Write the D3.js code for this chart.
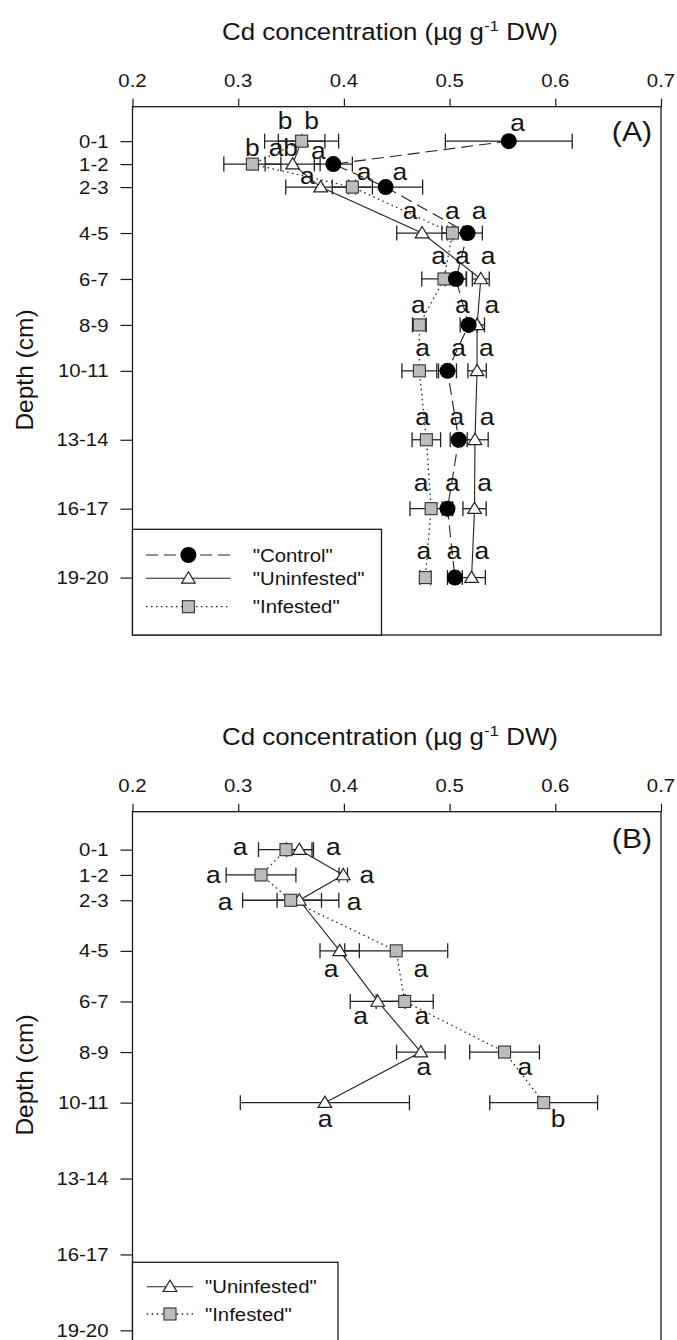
<!DOCTYPE html>
<html>
<head>
<meta charset="utf-8">
<script src="https://cdn.jsdelivr.net/npm/d3@7"></script>
<style>
  html, body { margin: 0; padding: 0; background: #fff; }
  svg { display: block; }
  text { font-family: "Liberation Sans", Arial, sans-serif; fill: #151515; }
</style>
</head>
<body>
<script>
// ---------------- DATA ----------------
const depthMids   = [0.5, 1.5, 2.5, 4.5, 6.5, 8.5, 10.5, 13.5, 16.5, 19.5];
const depthLabels = ["0-1", "1-2", "2-3", "4-5", "6-7", "8-9", "10-11", "13-14", "16-17", "19-20"];
const xTickValues = [0.2, 0.3, 0.4, 0.5, 0.6, 0.7];
const xTickLabels = ["0.2", "0.3", "0.4", "0.5", "0.6", "0.7"];

// Panel A (Cd, µg g-1 DW)
const controlA    = [0.556, 0.390, 0.4395, 0.517, 0.506, 0.518, 0.498, 0.5086, 0.498, 0.505];
const controlAErr = [0.060, 0.018, 0.035, 0.014, 0.010, 0.008, 0.0085, 0.008, 0.005, 0.007];
const uninfA      = [0.360, 0.3515, 0.378, 0.474, 0.5295, 0.526, 0.526, 0.524, 0.5236, 0.5208];
const uninfAErr   = [0.022, 0.026, 0.033, 0.024, 0.008, 0.007, 0.0087, 0.0125, 0.011, 0.013];
const infA        = [0.360, 0.3134, 0.408, 0.5027, 0.4947, 0.4714, 0.4714, 0.478, 0.4825, 0.477];
const infAErr     = [0.035, 0.027, 0.019, 0.010, 0.021, 0.0065, 0.0165, 0.0135, 0.020, 0.005];

// Panel B (only first 7 depth layers)
const uninfB      = [0.3578, 0.3994, 0.3578, 0.396, 0.432, 0.4728, 0.382];
const uninfBErr   = [0.012, 0.004, 0.021, 0.0186, 0.026, 0.023, 0.080];
const infB        = [0.3452, 0.3216, 0.3497, 0.4495, 0.4575, 0.552, 0.589];
const infBErr     = [0.026, 0.033, 0.0455, 0.0487, 0.027, 0.033, 0.051];

// Significance letters: [letter, concentration, depth]
const lettersA = [
  ["b", 0.3443, -0.01], ["b", 0.3695, -0.01], ["a", 0.5643, 0.04],
  ["b", 0.3134, 1.14], ["ab", 0.3427, 1.14], ["a", 0.3758, 1.28],
  ["a", 0.3654, 2.37], ["a", 0.419, 2.18], ["a", 0.453, 2.18],
  ["a", 0.4627, 3.88], ["a", 0.5027, 3.88], ["a", 0.5278, 3.88],
  ["a", 0.4895, 5.85], ["a", 0.5121, 5.85], ["a", 0.5365, 5.85],
  ["a", 0.4704, 7.99], ["a", 0.5121, 7.99], ["a", 0.540, 7.99],
  ["a", 0.4745, 9.86], ["a", 0.5086, 9.86], ["a", 0.5347, 9.86],
  ["a", 0.4745, 12.85], ["a", 0.5069, 12.85], ["a", 0.5354, 12.85],
  ["a", 0.4731, 15.75], ["a", 0.5027, 15.75], ["a", 0.533, 15.75],
  ["a", 0.4756, 18.7], ["a", 0.5041, 18.7], ["a", 0.5306, 18.7]
];
const lettersB = [
  ["a", 0.3017, 0.70], ["a", 0.390, 0.70],
  ["a", 0.2765, 1.83], ["a", 0.4216, 1.83],
  ["a", 0.2875, 2.87], ["a", 0.4096, 2.87],
  ["a", 0.3879, 5.53], ["a", 0.4728, 5.53],
  ["a", 0.4157, 7.39], ["a", 0.4738, 7.39],
  ["a", 0.4756, 9.41], ["a", 0.5713, 9.41],
  ["a", 0.3823, 11.47], ["b", 0.6026, 11.47]
];
const legendNamesA = ['"Control"', '"Uninfested"', '"Infested"'];
const legendNamesB = ['"Uninfested"', '"Infested"'];
const axisTitleMain = "Cd concentration (µg g";
const axisTitleSup = "-1";
const axisTitleEnd = " DW)";
const yAxisTitle = "Depth (cm)";

// ---------------- DRAWING ----------------
const W = 677, H = 1340;
const SX = 1.1; // horizontal text stretch of the original
const INK = "#1a1a1a";

const svg = d3.select("body").append("svg").attr("width", W).attr("height", H);
svg.append("rect").attr("width", W).attr("height", H).attr("fill", "#fff");

function txt(g, x, y, s, size, anchor) {
  return g.append("text")
    .attr("transform", `translate(${x},${y}) scale(${SX},1)`)
    .attr("text-anchor", anchor)
    .style("font-size", size + "px")
    .text(s);
}

const styles = {
  control:    { dash: "12,6",    marker: "circle" },
  uninfested: { dash: null,      marker: "triangle" },
  infested:   { dash: "1.5,3.5", marker: "square" }
};

function drawMarker(g, type, cx, cy) {
  if (type === "circle") {
    g.append("circle").attr("cx", cx).attr("cy", cy).attr("r", 8).attr("fill", "#000");
  } else if (type === "square") {
    g.append("rect").attr("x", cx - 6).attr("y", cy - 6).attr("width", 12).attr("height", 12)
      .attr("fill", "#bcbcbc").attr("stroke", "#333").attr("stroke-width", 1.1);
  } else {
    g.append("path").attr("d", `M${cx},${cy - 6.5}L${cx + 6.8},${cy + 4.8}L${cx - 6.8},${cy + 4.8}Z`)
      .attr("fill", "#fff").attr("stroke", "#222").attr("stroke-width", 1.2);
  }
}

function panel(cfg) {
  const g = svg.append("g");
  const x = d3.scaleLinear().domain([0.2, 0.7]).range([132.5, 661]);
  const y = d3.scaleLinear().domain([-1, 22]).range([cfg.top, cfg.bottom]);

  // title
  const t = g.append("text")
    .attr("transform", `translate(390,${cfg.top - 67}) scale(${SX},1)`)
    .attr("text-anchor", "middle").style("font-size", "23.5px");
  t.append("tspan").text(axisTitleMain);
  t.append("tspan").attr("dy", -8.5).style("font-size", "15.5px").text(axisTitleSup);
  t.append("tspan").attr("dy", 8.5).text(axisTitleEnd);

  // y title
  g.append("text")
    .attr("transform", `translate(33,${cfg.yTitleY}) rotate(-90)`)
    .attr("text-anchor", "middle").style("font-size", "24.5px").text(yAxisTitle);

  // top x axis
  const xAxis = d3.axisTop(x).tickValues(xTickValues).tickSize(8)
    .tickFormat((d, i) => xTickLabels[i]);
  const ax = g.append("g").attr("transform", `translate(0,${cfg.top})`).call(xAxis);
  ax.select(".domain").remove();
  ax.selectAll("line").attr("stroke", INK).attr("stroke-width", 1.2);
  ax.selectAll("text").remove();
  xTickValues.forEach((v, i) => txt(g, x(v), cfg.top - 19.5, xTickLabels[i], 18.5, "middle"));

  // left y axis
  const yAxis = d3.axisLeft(y).tickValues(depthMids).tickSize(12).tickFormat((d, i) => depthLabels[i]);
  const ay = g.append("g").attr("transform", "translate(132.5,0)").call(yAxis);
  ay.select(".domain").remove();
  ay.selectAll("line").attr("stroke", INK).attr("stroke-width", 1.2);
  ay.selectAll("text").remove();
  depthMids.forEach((d, i) => txt(g, 108.5, y(d) + 6.6, depthLabels[i], 18.5, "end"));

  // frame
  g.append("rect").attr("x", 132.5).attr("y", cfg.top)
    .attr("width", 661 - 132.5).attr("height", cfg.bottom - cfg.top)
    .attr("fill", "none").attr("stroke", INK).attr("stroke-width", 1.3);

  // lines
  cfg.series.forEach(s => {
    const pts = s.values.map((v, i) => [x(v), y(depthMids[i])]);
    g.append("path").attr("d", d3.line()(pts)).attr("fill", "none")
      .attr("stroke", "#222").attr("stroke-width", s.key === "infested" ? 1.3 : 1.1)
      .attr("stroke-dasharray", styles[s.key].dash);
  });
  // error bars
  cfg.series.forEach(s => {
    s.values.forEach((v, i) => {
      const yy = y(depthMids[i]);
      const x0 = x(v - s.err[i]), x1 = x(v + s.err[i]);
      g.append("line").attr("x1", x0).attr("x2", x1).attr("y1", yy).attr("y2", yy)
        .attr("stroke", "#222").attr("stroke-width", 1.3);
      [x0, x1].forEach(xc => g.append("line").attr("x1", xc).attr("x2", xc)
        .attr("y1", yy - 7.5).attr("y2", yy + 7.5).attr("stroke", "#222").attr("stroke-width", 1.3));
    });
  });
  // markers (triangle, square, circle)
  ["uninfested", "infested", "control"].forEach(k => {
    const s = cfg.series.find(q => q.key === k);
    if (!s) return;
    s.values.forEach((v, i) => drawMarker(g, styles[k].marker, x(v), y(depthMids[i])));
  });

  // letters
  cfg.letters.forEach(([l, v, d]) => txt(g, x(v), y(d), l, 24, "middle"));

  // panel tag
  txt(g, 632, cfg.top + cfg.tagDy, cfg.tag, 27.5, "middle");

  // legend
  const L = cfg.legend;
  g.append("rect").attr("x", 132.5).attr("y", L.top).attr("width", L.right - 132.5)
    .attr("height", cfg.bottom - L.top).attr("fill", "#fff").attr("stroke", INK).attr("stroke-width", 1.3);
  cfg.series.forEach((s, i) => {
    const yy = L.rows[i];
    g.append("line").attr("x1", L.x0).attr("x2", L.x1).attr("y1", yy).attr("y2", yy)
      .attr("stroke", "#222").attr("stroke-width", s.key === "infested" ? 1.3 : 1.1)
      .attr("stroke-dasharray", styles[s.key].dash);
    drawMarker(g, styles[s.key].marker, L.xm, yy);
    txt(g, L.xt, yy + 6.6, L.names[i], 18.5, "start");
  });
}

panel({
  top: 106.7, bottom: 635, yTitleY: 370, tag: "(A)", tagDy: 34,
  series: [
    { key: "control", values: controlA, err: controlAErr },
    { key: "uninfested", values: uninfA, err: uninfAErr },
    { key: "infested", values: infA, err: infAErr }
  ],
  letters: lettersA,
  legend: { top: 529.3, right: 381.5, rows: [555, 578.3, 606.7], x0: 146, x1: 230.7, xm: 188.4, xt: 252.8, names: legendNamesA }
});

panel({
  top: 811.7, bottom: 1393.6, yTitleY: 1075, tag: "(B)", tagDy: 36,
  series: [
    { key: "uninfested", values: uninfB, err: uninfBErr },
    { key: "infested", values: infB, err: infBErr }
  ],
  letters: lettersB,
  legend: { top: 1262.3, right: 338, rows: [1286.7, 1314], x0: 146.7, x1: 193, xm: 170, xt: 205, names: legendNamesB }
});
</script>
</body>
</html>
